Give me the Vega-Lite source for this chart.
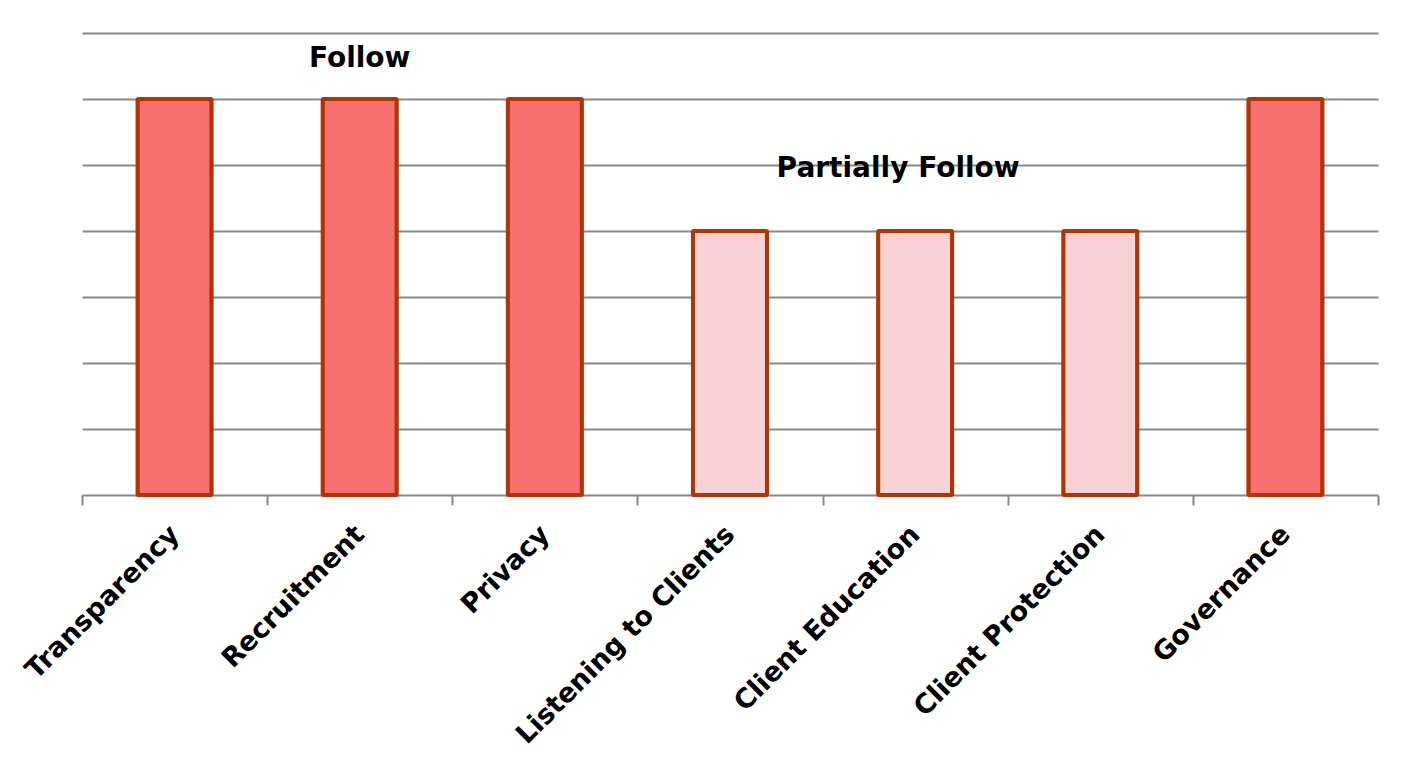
{
  "$schema": "https://vega.github.io/schema/vega-lite/v6.json",
  "width": 1296,
  "height": 462,
  "autosize": {"type": "none"},
  "padding": {"left": 82, "top": 33, "right": 36, "bottom": 266},
  "background": "white",
  "config": {"view": {"stroke": null}, "font": "DejaVu Sans"},
  "datasets": {
    "bars": [
      {"principle": "Transparency", "score": 6, "status": "Follow"},
      {"principle": "Recruitment", "score": 6, "status": "Follow"},
      {"principle": "Privacy", "score": 6, "status": "Follow"},
      {"principle": "Listening to Clients", "score": 4, "status": "Partially Follow"},
      {"principle": "Client Education", "score": 4, "status": "Partially Follow"},
      {"principle": "Client Protection", "score": 4, "status": "Partially Follow"},
      {"principle": "Governance", "score": 6, "status": "Follow"}
    ],
    "notes": [
      {"principle": "Recruitment", "score": 6.6, "label": "Follow"},
      {"principle": "Client Education", "score": 4.94, "label": "Partially Follow"}
    ]
  },
  "encoding": {
    "x": {
      "field": "principle", "type": "nominal", "sort": null,
      "scale": {"domain": ["Transparency", "Recruitment", "Privacy", "Listening to Clients", "Client Education", "Client Protection", "Governance"], "paddingInner": 0, "paddingOuter": 0},
      "axis": {
        "title": null, "labelAngle": -45, "labelAlign": "right", "labelBaseline": "middle",
        "labelFont": "DejaVu Sans", "labelFontWeight": "bold", "labelFontSize": 27, "labelColor": "#000",
        "labelPadding": 25, "labelLimit": 0, "tickBand": "extent", "tickSize": 10, "tickColor": "#888", "tickWidth": 2,
        "domainColor": "#888", "domainWidth": 2, "grid": false
      }
    },
    "y": {
      "field": "score", "type": "quantitative",
      "scale": {"domain": [0, 7], "nice": false},
      "axis": {
        "title": null, "labels": false, "ticks": false, "domain": false,
        "values": [1, 2, 3, 4, 5, 6, 7],
        "grid": true, "gridColor": "#888", "gridWidth": 2
      }
    }
  },
  "layer": [
    {
      "data": {"name": "bars"},
      "mark": {"type": "bar", "width": {"band": 0.4}, "stroke": "#B03506", "strokeWidth": 4, "cornerRadius": 1},
      "encoding": {
        "fill": {
          "field": "status", "type": "nominal",
          "scale": {"domain": ["Follow", "Partially Follow"], "range": ["#F87070", "#F9D3D3"]},
          "legend": null
        }
      }
    },
    {
      "data": {"name": "notes"},
      "transform": [{"filter": "datum.label === 'Follow'"}],
      "mark": {"type": "text", "font": "DejaVu Sans", "fontWeight": "bold", "fontSize": 28, "color": "#000", "baseline": "middle", "align": "center"},
      "encoding": {"text": {"field": "label"}}
    },
    {
      "data": {"name": "notes"},
      "transform": [{"filter": "datum.label === 'Partially Follow'"}],
      "mark": {"type": "text", "font": "DejaVu Sans", "fontWeight": "bold", "fontSize": 28, "color": "#000", "baseline": "middle", "align": "center", "dx": -17},
      "encoding": {"text": {"field": "label"}}
    }
  ]
}
